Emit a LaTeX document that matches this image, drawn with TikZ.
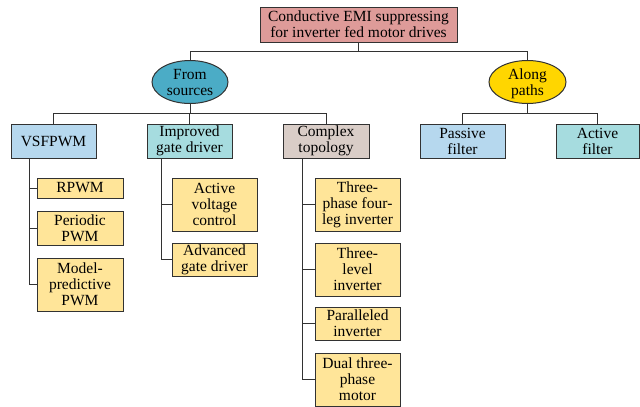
\documentclass[tikz,border=0pt]{standalone}
\usepackage{fontspec}
\setmainfont{Liberation Serif}
\newfontfamily\tnr{Liberation Serif}
\usetikzlibrary{shapes.geometric}
\definecolor{cTop}{RGB}{222,155,153}
\definecolor{cFrom}{RGB}{75,172,198}
\definecolor{cAlong}{RGB}{255,214,0}
\definecolor{cBlue}{RGB}{182,216,238}
\definecolor{cTeal}{RGB}{166,220,223}
\definecolor{cGray}{RGB}{217,205,199}
\definecolor{cLeaf}{RGB}{255,229,153}
\definecolor{cLine}{RGB}{50,50,50}
\tikzset{
  box/.style={draw=cLine, line width=1pt, rectangle, inner sep=0pt, align=center,
    font=\tnr\fontsize{15.5}{16}\selectfont},
  oval/.style={draw=cLine, line width=1pt, ellipse, inner sep=0pt, align=center,
    font=\tnr\fontsize{15.5}{16}\selectfont},
  conn/.style={draw=cLine, line width=1pt},
}
\begin{document}
\begin{tikzpicture}[x=1pt,y=-1pt]
\useasboundingbox (0,0) rectangle (640,407);
% level 0
\node[box, fill=cTop, minimum width=197, minimum height=35] (top) at (358.5,24.5) {Conductive EMI suppressing\\for inverter fed motor drives};
% level 1
\node[oval, fill=cFrom, minimum width=76, minimum height=43] (from) at (190,82) {From\\sources};
\node[oval, fill=cAlong, minimum width=77, minimum height=43] (along) at (527.5,82) {Along\\\smash{paths}};
% level 2
\node[box, fill=cBlue, minimum width=85, minimum height=34] (vsf) at (53.5,141) {VSFPWM};
\node[box, fill=cTeal, minimum width=85, minimum height=34] (igd) at (189.5,141) {Improved\\gate driver};
\node[box, fill=cGray, minimum width=86, minimum height=34] (ct) at (326,141) {Complex\\topology};
\node[box, fill=cBlue, minimum width=85, minimum height=34] (pf) at (462.5,141) {Passive\\filter};
\node[box, fill=cTeal, minimum width=83, minimum height=34] (af) at (597.5,141) {Active\\filter};
% leaves
\node[box, fill=cLeaf, minimum width=86, minimum height=20] (rpwm) at (80,188) {RPWM};
\node[box, fill=cLeaf, minimum width=86, minimum height=34] (ppwm) at (80,228) {Periodic\\PWM};
\node[box, fill=cLeaf, minimum width=86, minimum height=53] (mpwm) at (80,284.5) {Model-\\predictive\\PWM};
\node[box, fill=cLeaf, minimum width=85, minimum height=53] (avc) at (214.5,204.5) {Active\\voltage\\control};
\node[box, fill=cLeaf, minimum width=85, minimum height=33] (agd) at (214.5,259.5) {Advanced\\gate driver};
\node[box, fill=cLeaf, minimum width=85, minimum height=53] (tpf) at (357.5,204.5) {Three-\\phase four-\\leg inverter};
\node[box, fill=cLeaf, minimum width=85, minimum height=53] (tli) at (357.5,269.5) {Three-\\level\\inverter};
\node[box, fill=cLeaf, minimum width=85, minimum height=33] (pin) at (357.5,323.5) {Paralleled\\inverter};
\node[box, fill=cLeaf, minimum width=85, minimum height=53] (dtm) at (357.5,379.5) {Dual three-\\phase\\motor};
% bus coordinates
\coordinate (b1) at (0,51);
\coordinate (b2) at (0,113);
\coordinate (t1) at (29,158);
\coordinate (t2) at (161,158);
\coordinate (t3) at (302,158);
% connectors
\draw[conn] (top.south) -- (top.south |- b1);
\draw[conn] (from.north) -- (from.north |- b1) -- (along.north |- b1) -- (along.north);
\draw[conn] (from.south) -- (from.south |- b2);
\draw[conn] (vsf.north) -- (vsf.north |- b2) -- (ct.north |- b2) -- (ct.north);
\draw[conn] (igd.north) -- (igd.north |- b2);
\draw[conn] (along.south) -- (along.south |- b2);
\draw[conn] (pf.north) -- (pf.north |- b2) -- (af.north |- b2) -- (af.north);
\draw[conn] (t1) |- (rpwm.west);
\draw[conn] (t1) |- (ppwm.west);
\draw[conn] (t1) |- (mpwm.west);
\draw[conn] (t2) |- (avc.west);
\draw[conn] (t2) |- (agd.west);
\draw[conn] (t3) |- (tpf.west);
\draw[conn] (t3) |- (tli.west);
\draw[conn] (t3) |- (pin.west);
\draw[conn] (t3) |- (dtm.west);
\end{tikzpicture}
\end{document}
